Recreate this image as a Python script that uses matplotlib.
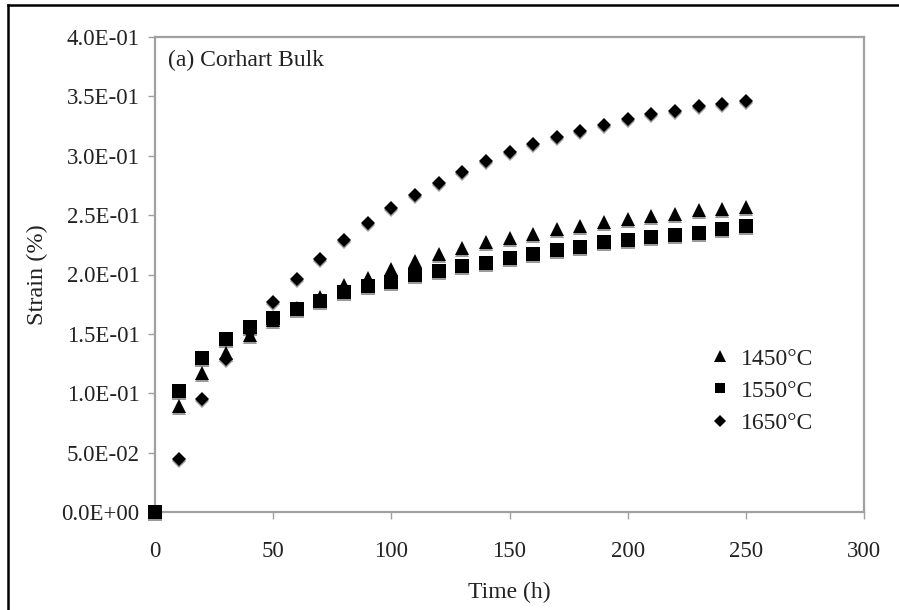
import matplotlib
matplotlib.use("Agg")
import matplotlib.pyplot as plt
import matplotlib.transforms as mtransforms
from matplotlib.lines import Line2D

plt.rcParams['font.family'] = ['Liberation Serif', 'DejaVu Serif']

time_h = [0, 10, 20, 30, 40, 50, 60, 70, 80, 90, 100, 110, 120, 130, 140, 150,
          160, 170, 180, 190, 200, 210, 220, 230, 240, 250]
strain_1450 = [0.0, 0.089, 0.117, 0.134, 0.149, 0.162, 0.172, 0.181, 0.191, 0.197,
               0.205, 0.211, 0.217, 0.222, 0.227, 0.231, 0.234, 0.238, 0.241, 0.244,
               0.247, 0.249, 0.251, 0.254, 0.255, 0.257]
strain_1550 = [0.0, 0.102, 0.130, 0.146, 0.156, 0.163, 0.171, 0.178, 0.185, 0.190,
               0.194, 0.200, 0.203, 0.207, 0.210, 0.214, 0.217, 0.221, 0.223, 0.227,
               0.229, 0.232, 0.233, 0.235, 0.238, 0.241]
strain_1650 = [0.0, 0.045, 0.095, 0.129, 0.152, 0.177, 0.196, 0.213, 0.229, 0.243,
               0.256, 0.267, 0.277, 0.286, 0.296, 0.303, 0.310, 0.316, 0.321, 0.326,
               0.331, 0.335, 0.338, 0.342, 0.344, 0.346]
series_labels = ['1450°C', '1550°C', '1650°C']
x_ticks = [0, 50, 100, 150, 200, 250, 300]
y_ticks = [0.0, 0.05, 0.10, 0.15, 0.20, 0.25, 0.30, 0.35, 0.40]

fig = plt.figure(figsize=(8.99, 6.10), dpi=100)
ax = fig.add_axes([155/899, (610-512)/610, (864-155)/899, (512-37)/610])

series = [(strain_1450, '^', 10.0), (strain_1550, 's', 9.5), (strain_1650, 'D', 7.5)]
shadow = mtransforms.offset_copy(ax.transData, fig=fig, x=0.0, y=-2.0, units='dots')
handles = []
for (vals, mk, ms), lab in zip(series, series_labels):
    ax.plot(time_h, vals, linestyle='none', marker=mk, markersize=ms,
            color='#9a9a9a', markeredgewidth=0, transform=shadow, zorder=2,
            clip_on=False)
    ax.plot(time_h, vals, linestyle='none', marker=mk, markersize=ms,
            color='black', markeredgewidth=0, zorder=3, clip_on=False)
    handles.append(Line2D([], [], linestyle='none', marker=mk, markersize=ms*0.8,
                          color='black', markeredgewidth=0, label=lab))

ax.set_xlim(0, 300)
ax.set_ylim(0, 0.4)
ax.set_xticks(x_ticks)
ax.set_yticks(y_ticks)
ax.set_xticklabels([str(v) for v in x_ticks])
ax.set_yticklabels(['%.1E' % v for v in y_ticks])
for sp in ax.spines.values():
    sp.set_color('#a0a0a0')
    sp.set_linewidth(1.6)
    sp.set_zorder(1)
ax.tick_params(axis='both', direction='out', length=5, width=1.0, color='#a0a0a0',
               labelsize=16.5, labelcolor='#222222', pad=6)
ax.tick_params(axis='x', pad=16)

ax.set_xlabel('Time (h)', fontsize=17, color='#222222', labelpad=14)
ax.set_ylabel('Strain (%)', fontsize=17.5, color='#222222', labelpad=10)

ax.text(0.018, 0.95, '(a) Corhart Bulk', transform=ax.transAxes, fontsize=17,
        color='#222222', va='center', ha='left')

leg = ax.legend(handles=handles, loc='upper left', bbox_to_anchor=(0.77, 0.365),
                frameon=False, fontsize=17, handlelength=0.8, handletextpad=0.5,
                labelspacing=0.45, borderaxespad=0)
for t in leg.get_texts():
    t.set_color('#222222')

# outer border (top and left visible)
fig.add_artist(Line2D([8/899, 1.0], [1 - 5/610, 1 - 5/610], transform=fig.transFigure,
                      color='black', linewidth=1.8))
fig.add_artist(Line2D([8/899, 8/899], [0.0, 1 - 5/610], transform=fig.transFigure,
                      color='black', linewidth=1.8))

fig.savefig('out.png', dpi=100)
